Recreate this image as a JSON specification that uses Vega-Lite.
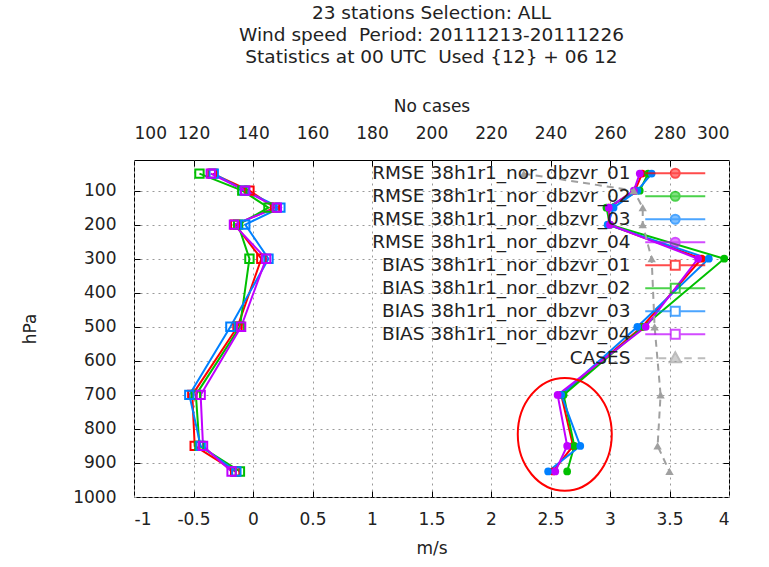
{
  "$schema": "https://vega.github.io/schema/vega-lite/v6.json",
  "width": 595,
  "height": 337,
  "autosize": "none",
  "padding": {"left": 134, "top": 160, "right": 40, "bottom": 70},
  "background": "white",
  "config": {
    "view": {"stroke": "#000000", "strokeWidth": 1},
    "font": "DejaVu Sans",
    "axis": {"labelFont": "DejaVu Sans", "titleFont": "DejaVu Sans", "labelColor": "#222222", "titleColor": "#222222", "labelFontSize": 17, "titleFontSize": 17, "titleFontWeight": "normal", "domain": false, "ticks": false, "tickColor": "#000000", "tickSize": 6, "tickWidth": 1, "gridColor": "#9a9a9a", "gridDash": [2, 4], "gridWidth": 1}
  },
  "title": {"text": ["23 stations Selection: ALL", "Wind speed \u00a0Period: 20111213-20111226", "Statistics at 00 UTC \u00a0Used {12} + 06 12"], "fontSize": 18.5, "fontWeight": "normal", "font": "DejaVu Sans", "color": "#222222", "lineHeight": 22, "anchor": "middle", "offset": 31},
  "datasets": {
    "main": [
      {"s": "RMSE 38h1r1_nor_dbzvr_01", "k": "RMSE", "p": 50, "v": 3.27},
      {"s": "RMSE 38h1r1_nor_dbzvr_01", "k": "RMSE", "p": 100, "v": 3.21},
      {"s": "RMSE 38h1r1_nor_dbzvr_01", "k": "RMSE", "p": 150, "v": 2.99},
      {"s": "RMSE 38h1r1_nor_dbzvr_01", "k": "RMSE", "p": 200, "v": 2.99},
      {"s": "RMSE 38h1r1_nor_dbzvr_01", "k": "RMSE", "p": 300, "v": 3.77},
      {"s": "RMSE 38h1r1_nor_dbzvr_01", "k": "RMSE", "p": 500, "v": 3.27},
      {"s": "RMSE 38h1r1_nor_dbzvr_01", "k": "RMSE", "p": 700, "v": 2.59},
      {"s": "RMSE 38h1r1_nor_dbzvr_01", "k": "RMSE", "p": 850, "v": 2.69},
      {"s": "RMSE 38h1r1_nor_dbzvr_01", "k": "RMSE", "p": 925, "v": 2.52},
      {"s": "RMSE 38h1r1_nor_dbzvr_02", "k": "RMSE", "p": 50, "v": 3.32},
      {"s": "RMSE 38h1r1_nor_dbzvr_02", "k": "RMSE", "p": 100, "v": 3.25},
      {"s": "RMSE 38h1r1_nor_dbzvr_02", "k": "RMSE", "p": 150, "v": 2.97},
      {"s": "RMSE 38h1r1_nor_dbzvr_02", "k": "RMSE", "p": 200, "v": 3.0},
      {"s": "RMSE 38h1r1_nor_dbzvr_02", "k": "RMSE", "p": 300, "v": 3.96},
      {"s": "RMSE 38h1r1_nor_dbzvr_02", "k": "RMSE", "p": 500, "v": 3.28},
      {"s": "RMSE 38h1r1_nor_dbzvr_02", "k": "RMSE", "p": 700, "v": 2.61},
      {"s": "RMSE 38h1r1_nor_dbzvr_02", "k": "RMSE", "p": 850, "v": 2.7},
      {"s": "RMSE 38h1r1_nor_dbzvr_02", "k": "RMSE", "p": 925, "v": 2.64},
      {"s": "RMSE 38h1r1_nor_dbzvr_03", "k": "RMSE", "p": 50, "v": 3.35},
      {"s": "RMSE 38h1r1_nor_dbzvr_03", "k": "RMSE", "p": 100, "v": 3.23},
      {"s": "RMSE 38h1r1_nor_dbzvr_03", "k": "RMSE", "p": 150, "v": 3.03},
      {"s": "RMSE 38h1r1_nor_dbzvr_03", "k": "RMSE", "p": 200, "v": 2.98},
      {"s": "RMSE 38h1r1_nor_dbzvr_03", "k": "RMSE", "p": 300, "v": 3.83},
      {"s": "RMSE 38h1r1_nor_dbzvr_03", "k": "RMSE", "p": 500, "v": 3.23},
      {"s": "RMSE 38h1r1_nor_dbzvr_03", "k": "RMSE", "p": 700, "v": 2.59},
      {"s": "RMSE 38h1r1_nor_dbzvr_03", "k": "RMSE", "p": 850, "v": 2.75},
      {"s": "RMSE 38h1r1_nor_dbzvr_03", "k": "RMSE", "p": 925, "v": 2.48},
      {"s": "RMSE 38h1r1_nor_dbzvr_04", "k": "RMSE", "p": 50, "v": 3.25},
      {"s": "RMSE 38h1r1_nor_dbzvr_04", "k": "RMSE", "p": 100, "v": 3.2},
      {"s": "RMSE 38h1r1_nor_dbzvr_04", "k": "RMSE", "p": 150, "v": 2.99},
      {"s": "RMSE 38h1r1_nor_dbzvr_04", "k": "RMSE", "p": 200, "v": 3.0},
      {"s": "RMSE 38h1r1_nor_dbzvr_04", "k": "RMSE", "p": 300, "v": 3.74},
      {"s": "RMSE 38h1r1_nor_dbzvr_04", "k": "RMSE", "p": 500, "v": 3.3},
      {"s": "RMSE 38h1r1_nor_dbzvr_04", "k": "RMSE", "p": 700, "v": 2.56},
      {"s": "RMSE 38h1r1_nor_dbzvr_04", "k": "RMSE", "p": 850, "v": 2.64},
      {"s": "RMSE 38h1r1_nor_dbzvr_04", "k": "RMSE", "p": 925, "v": 2.54},
      {"s": "BIAS 38h1r1_nor_dbzvr_01", "k": "BIAS", "p": 50, "v": -0.34},
      {"s": "BIAS 38h1r1_nor_dbzvr_01", "k": "BIAS", "p": 100, "v": -0.03},
      {"s": "BIAS 38h1r1_nor_dbzvr_01", "k": "BIAS", "p": 150, "v": 0.185},
      {"s": "BIAS 38h1r1_nor_dbzvr_01", "k": "BIAS", "p": 200, "v": -0.15},
      {"s": "BIAS 38h1r1_nor_dbzvr_01", "k": "BIAS", "p": 300, "v": 0.07},
      {"s": "BIAS 38h1r1_nor_dbzvr_01", "k": "BIAS", "p": 500, "v": -0.13},
      {"s": "BIAS 38h1r1_nor_dbzvr_01", "k": "BIAS", "p": 700, "v": -0.51},
      {"s": "BIAS 38h1r1_nor_dbzvr_01", "k": "BIAS", "p": 850, "v": -0.49},
      {"s": "BIAS 38h1r1_nor_dbzvr_01", "k": "BIAS", "p": 925, "v": -0.15},
      {"s": "BIAS 38h1r1_nor_dbzvr_02", "k": "BIAS", "p": 50, "v": -0.45},
      {"s": "BIAS 38h1r1_nor_dbzvr_02", "k": "BIAS", "p": 100, "v": -0.09},
      {"s": "BIAS 38h1r1_nor_dbzvr_02", "k": "BIAS", "p": 150, "v": 0.13},
      {"s": "BIAS 38h1r1_nor_dbzvr_02", "k": "BIAS", "p": 200, "v": -0.125},
      {"s": "BIAS 38h1r1_nor_dbzvr_02", "k": "BIAS", "p": 300, "v": -0.03},
      {"s": "BIAS 38h1r1_nor_dbzvr_02", "k": "BIAS", "p": 500, "v": -0.11},
      {"s": "BIAS 38h1r1_nor_dbzvr_02", "k": "BIAS", "p": 700, "v": -0.48},
      {"s": "BIAS 38h1r1_nor_dbzvr_02", "k": "BIAS", "p": 850, "v": -0.45},
      {"s": "BIAS 38h1r1_nor_dbzvr_02", "k": "BIAS", "p": 925, "v": -0.11},
      {"s": "BIAS 38h1r1_nor_dbzvr_03", "k": "BIAS", "p": 50, "v": -0.33},
      {"s": "BIAS 38h1r1_nor_dbzvr_03", "k": "BIAS", "p": 100, "v": -0.07},
      {"s": "BIAS 38h1r1_nor_dbzvr_03", "k": "BIAS", "p": 150, "v": 0.23},
      {"s": "BIAS 38h1r1_nor_dbzvr_03", "k": "BIAS", "p": 200, "v": -0.065},
      {"s": "BIAS 38h1r1_nor_dbzvr_03", "k": "BIAS", "p": 300, "v": 0.13},
      {"s": "BIAS 38h1r1_nor_dbzvr_03", "k": "BIAS", "p": 500, "v": -0.19},
      {"s": "BIAS 38h1r1_nor_dbzvr_03", "k": "BIAS", "p": 700, "v": -0.535},
      {"s": "BIAS 38h1r1_nor_dbzvr_03", "k": "BIAS", "p": 850, "v": -0.44},
      {"s": "BIAS 38h1r1_nor_dbzvr_03", "k": "BIAS", "p": 925, "v": -0.14},
      {"s": "BIAS 38h1r1_nor_dbzvr_04", "k": "BIAS", "p": 50, "v": -0.355},
      {"s": "BIAS 38h1r1_nor_dbzvr_04", "k": "BIAS", "p": 100, "v": -0.065},
      {"s": "BIAS 38h1r1_nor_dbzvr_04", "k": "BIAS", "p": 150, "v": 0.2},
      {"s": "BIAS 38h1r1_nor_dbzvr_04", "k": "BIAS", "p": 200, "v": -0.16},
      {"s": "BIAS 38h1r1_nor_dbzvr_04", "k": "BIAS", "p": 300, "v": 0.11},
      {"s": "BIAS 38h1r1_nor_dbzvr_04", "k": "BIAS", "p": 500, "v": -0.1},
      {"s": "BIAS 38h1r1_nor_dbzvr_04", "k": "BIAS", "p": 700, "v": -0.44},
      {"s": "BIAS 38h1r1_nor_dbzvr_04", "k": "BIAS", "p": 850, "v": -0.42},
      {"s": "BIAS 38h1r1_nor_dbzvr_04", "k": "BIAS", "p": 925, "v": -0.18},
      {"s": "CASES", "k": "CASES", "p": 50, "v": 231},
      {"s": "CASES", "k": "CASES", "p": 100, "v": 268},
      {"s": "CASES", "k": "CASES", "p": 150, "v": 271},
      {"s": "CASES", "k": "CASES", "p": 200, "v": 271},
      {"s": "CASES", "k": "CASES", "p": 300, "v": 274},
      {"s": "CASES", "k": "CASES", "p": 500, "v": 275},
      {"s": "CASES", "k": "CASES", "p": 700, "v": 277},
      {"s": "CASES", "k": "CASES", "p": 850, "v": 276},
      {"s": "CASES", "k": "CASES", "p": 925, "v": 280}
    ],
    "ann": [{"v": 2.62, "p": 816}]
  },
  "data": {"name": "main"},
  "encoding": {
    "x": {"field": "v", "type": "quantitative", "scale": {"domain": [-1, 4], "nice": false, "zero": false}, "axis": null},
    "y": {"field": "p", "type": "quantitative", "scale": {"domain": [10, 1000], "reverse": true, "nice": false, "zero": false}, "axis": null}
  },
  "layer": [
    {
      "transform": [{"filter": "datum.k !== 'CASES'"}],
      "mark": {"type": "line", "strokeWidth": 2},
      "encoding": {
        "x": {"field": "v", "type": "quantitative", "scale": {"domain": [-1, 4], "nice": false, "zero": false},
          "axis": {"orient": "bottom", "values": [-1, -0.5, 0, 0.5, 1, 1.5, 2, 2.5, 3, 3.5, 4], "labelExpr": "datum.value + ''", "title": "m/s", "grid": true, "labelPadding": 14, "titlePadding": 13}},
        "y": {"field": "p", "type": "quantitative", "scale": {"domain": [10, 1000], "reverse": true, "nice": false, "zero": false},
          "axis": {"orient": "left", "values": [100, 200, 300, 400, 500, 600, 700, 800, 900, 1000], "labelExpr": "datum.value + ''", "title": "hPa", "grid": true, "labelPadding": 18, "titlePadding": 33}},
        "color": {"field": "s", "type": "nominal", "legend": null,
          "scale": {"domain": ["BIAS 38h1r1_nor_dbzvr_01", "BIAS 38h1r1_nor_dbzvr_02", "BIAS 38h1r1_nor_dbzvr_03", "BIAS 38h1r1_nor_dbzvr_04", "RMSE 38h1r1_nor_dbzvr_01", "RMSE 38h1r1_nor_dbzvr_02", "RMSE 38h1r1_nor_dbzvr_03", "RMSE 38h1r1_nor_dbzvr_04"],
            "range": ["#ff0000", "#00c000", "#0080ff", "#c000ff", "#ff0000", "#00c000", "#0080ff", "#c000ff"]}},
        "order": {"field": "p", "type": "quantitative"}
      }
    },
    {
      "transform": [{"filter": "datum.k === 'RMSE'"}],
      "mark": {"type": "point", "shape": "circle", "filled": true, "size": 60, "opacity": 1},
      "encoding": {
        "x": {"field": "v", "type": "quantitative", "scale": {"domain": [-1, 4], "nice": false, "zero": false},
          "axis": {"orient": "top", "offset": -337, "values": [-0.5, 0, 0.5, 1, 1.5, 2, 2.5, 3, 3.5], "labels": false, "grid": false, "ticks": true, "title": null}},
        "y": {"field": "p", "type": "quantitative", "scale": {"domain": [10, 1000], "reverse": true, "nice": false, "zero": false},
          "axis": {"orient": "right", "offset": -595, "values": [100, 200, 300, 400, 500, 600, 700, 800, 900], "labels": false, "grid": false, "ticks": true, "title": null}},
        "color": {"field": "s", "type": "nominal", "legend": null}
      }
    },
    {
      "transform": [{"filter": "datum.k === 'BIAS'"}],
      "mark": {"type": "point", "shape": "square", "filled": false, "size": 70, "strokeWidth": 2, "opacity": 1},
      "encoding": {
        "y": {"field": "p", "type": "quantitative", "scale": {"domain": [10, 1000], "reverse": true, "nice": false, "zero": false},
          "axis": {"orient": "left", "offset": -595, "values": [100, 200, 300, 400, 500, 600, 700, 800, 900], "labels": false, "grid": false, "ticks": true, "title": null}},
        "color": {"field": "s", "type": "nominal", "legend": null}
      }
    },
    {
      "transform": [{"filter": "datum.k === 'CASES'"}],
      "mark": {"type": "line", "color": "#a0a0a0", "strokeWidth": 2, "strokeDash": [7, 5]},
      "encoding": {
        "x": {"field": "v", "type": "quantitative", "scale": {"domain": [100, 300], "nice": false, "zero": false},
          "axis": {"orient": "top", "values": [100, 120, 140, 160, 180, 200, 220, 240, 260, 280, 300], "labelExpr": "datum.value + ''", "title": "No cases", "grid": false, "labelPadding": 18, "titlePadding": 9}},
        "order": {"field": "p", "type": "quantitative"}
      }
    },
    {
      "transform": [{"filter": "datum.k === 'CASES'"}],
      "mark": {"type": "point", "shape": "triangle-up", "filled": true, "color": "#a0a0a0", "size": 70, "opacity": 1},
      "encoding": {
        "x": {"field": "v", "type": "quantitative", "scale": {"domain": [100, 300], "nice": false, "zero": false},
          "axis": {"orient": "bottom", "offset": -337, "values": [120, 140, 160, 180, 200, 220, 240, 260, 280], "labels": false, "grid": false, "ticks": true, "title": null}}
      }
    },
    {
      "data": {"name": "ann"},
      "mark": {"type": "point", "shape": "M-1,0A1,1.2 0 1,1 1,0A1,1.2 0 1,1 -1,0Z", "size": 8836, "filled": false, "stroke": "#ff0000", "strokeWidth": 2, "opacity": 1}
    },
    {
      "transform": [{"filter": "datum.p < 0"}],
      "mark": {"type": "point"},
      "encoding": {
        "shape": {"field": "s", "type": "nominal",
          "scale": {"domain": ["RMSE 38h1r1_nor_dbzvr_01", "RMSE 38h1r1_nor_dbzvr_02", "RMSE 38h1r1_nor_dbzvr_03", "RMSE 38h1r1_nor_dbzvr_04", "BIAS 38h1r1_nor_dbzvr_01", "BIAS 38h1r1_nor_dbzvr_02", "BIAS 38h1r1_nor_dbzvr_03", "BIAS 38h1r1_nor_dbzvr_04", "CASES"],
            "range": [
              "M-6,0H6M-0.9,0A0.9,0.9 0 1,0 0.9,0A0.9,0.9 0 1,0 -0.9,0Z",
              "M-6,0H6M-0.9,0A0.9,0.9 0 1,0 0.9,0A0.9,0.9 0 1,0 -0.9,0Z",
              "M-6,0H6M-0.9,0A0.9,0.9 0 1,0 0.9,0A0.9,0.9 0 1,0 -0.9,0Z",
              "M-6,0H6M-0.9,0A0.9,0.9 0 1,0 0.9,0A0.9,0.9 0 1,0 -0.9,0Z",
              "M-6,0H-0.9M0.9,0H6M-0.9,-0.9H0.9V0.9H-0.9Z",
              "M-6,0H-0.9M0.9,0H6M-0.9,-0.9H0.9V0.9H-0.9Z",
              "M-6,0H-0.9M0.9,0H6M-0.9,-0.9H0.9V0.9H-0.9Z",
              "M-6,0H-0.9M0.9,0H6M-0.9,-0.9H0.9V0.9H-0.9Z",
              "M-6,0H-4.5M-3.3,0H-1.8M1.8,0H3.3M4.5,0H6M0,-1.2L1.1,0.8L-1.1,0.8Z"
            ]},
          "legend": {"title": null, "orient": "none", "legendX": 222, "legendY": 4, "symbolSize": 100, "symbolStrokeWidth": 2, "symbolOffset": 310, "labelAlign": "right", "labelOffset": -54, "labelFontSize": 18.5, "labelFont": "DejaVu Sans", "labelColor": "#222222", "labelLimit": 400, "rowPadding": 4}},
        "stroke": {"field": "s", "type": "nominal",
          "scale": {"domain": ["RMSE 38h1r1_nor_dbzvr_01", "RMSE 38h1r1_nor_dbzvr_02", "RMSE 38h1r1_nor_dbzvr_03", "RMSE 38h1r1_nor_dbzvr_04", "BIAS 38h1r1_nor_dbzvr_01", "BIAS 38h1r1_nor_dbzvr_02", "BIAS 38h1r1_nor_dbzvr_03", "BIAS 38h1r1_nor_dbzvr_04", "CASES"],
            "range": ["#ff0000", "#00c000", "#0080ff", "#c000ff", "#ff0000", "#00c000", "#0080ff", "#c000ff", "#a0a0a0"]},
          "legend": {"title": null, "orient": "none", "legendX": 222, "legendY": 4, "symbolSize": 100, "symbolStrokeWidth": 2, "symbolOffset": 310, "labelAlign": "right", "labelOffset": -54, "labelFontSize": 18.5, "labelFont": "DejaVu Sans", "labelColor": "#222222", "labelLimit": 400, "rowPadding": 4}},
        "fill": {"field": "s", "type": "nominal",
          "scale": {"domain": ["RMSE 38h1r1_nor_dbzvr_01", "RMSE 38h1r1_nor_dbzvr_02", "RMSE 38h1r1_nor_dbzvr_03", "RMSE 38h1r1_nor_dbzvr_04", "BIAS 38h1r1_nor_dbzvr_01", "BIAS 38h1r1_nor_dbzvr_02", "BIAS 38h1r1_nor_dbzvr_03", "BIAS 38h1r1_nor_dbzvr_04", "CASES"],
            "range": ["#ff0000", "#00c000", "#0080ff", "#c000ff", "transparent", "transparent", "transparent", "transparent", "#a0a0a0"]},
          "legend": {"title": null, "orient": "none", "legendX": 222, "legendY": 4, "symbolSize": 100, "symbolStrokeWidth": 2, "symbolOffset": 310, "labelAlign": "right", "labelOffset": -54, "labelFontSize": 18.5, "labelFont": "DejaVu Sans", "labelColor": "#222222", "labelLimit": 400, "rowPadding": 4}}
      }
    }
  ],
  "resolve": {"scale": {"x": "independent"}, "axis": {"x": "independent", "y": "independent"}}
}
